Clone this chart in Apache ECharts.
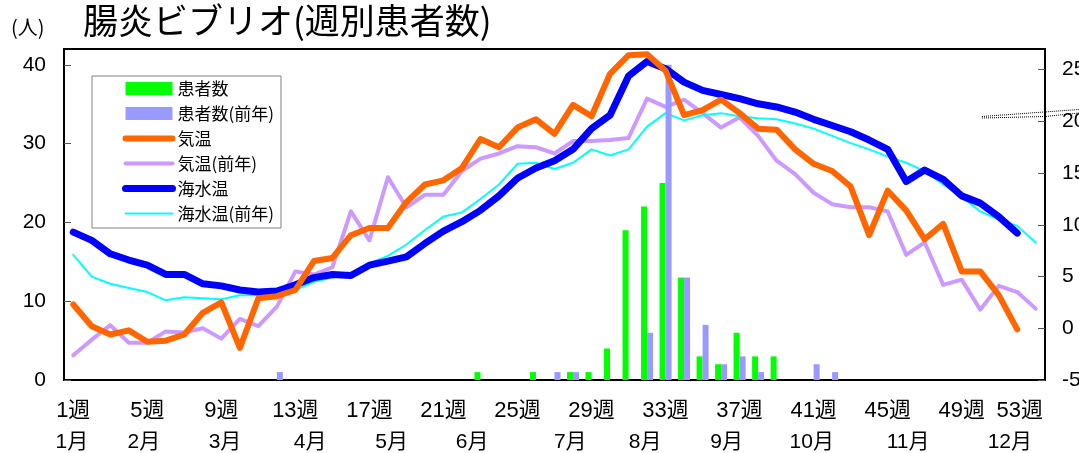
<!DOCTYPE html>
<html><head><meta charset="utf-8">
<script src="https://cdn.jsdelivr.net/npm/echarts@6/dist/echarts.min.js"></script>
<style>html,body{margin:0;padding:0;background:#fff}#c{width:1079px;height:453px}</style>
</head><body><div id="c"></div>
<script>
// Categories (weeks 1..53)
const weeks = ['1週','2週','3週','4週','5週','6週','7週','8週','9週','10週','11週','12週','13週','14週','15週','16週','17週','18週','19週','20週','21週','22週','23週','24週','25週','26週','27週','28週','29週','30週','31週','32週','33週','34週','35週','36週','37週','38週','39週','40週','41週','42週','43週','44週','45週','46週','47週','48週','49週','50週','51週','52週','53週'];
// Month labels and where they sit along the week axis
const monthLabels = ['1月','2月','3月','4月','5月','6月','7月','8月','9月','10月','11月','12月'];
const monthPos = [0.93,4.82,9.2,13.8,18.2,22.55,27.85,31.9,36.3,40.9,46.1,51.6];
// Patients (current year / previous year)
const patients = [0,0,0,0,0,0,0,0,0,0,0,0,0,0,0,0,0,0,0,0,0,0,1,0,0,1,0,1,1,4,19,22,25,13,3,2,6,3,3,0,0,0,0,0,0,0,0,0,0,0,0,0,0];
const patientsPrev = [0,0,0,0,0,0,0,0,0,0,0,1,0,0,0,0,0,0,0,0,0,0,0,0,0,0,1,1,0,0,0,6,40,13,7,2,3,1,0,0,2,1,0,0,0,0,0,0,0,0,0,0,0];
// Air temperature (current / previous)
const airTemp = [2.3,0.2,-0.6,-0.2,-1.3,-1.2,-0.6,1.5,2.5,-1.9,2.9,3.1,3.7,6.5,6.8,9.0,9.7,9.7,12.2,13.9,14.3,15.5,18.3,17.5,19.4,20.2,18.8,21.6,20.5,24.6,26.4,26.5,24.9,20.6,21.1,22.1,20.8,19.3,19.2,17.3,15.9,15.2,13.7,9.0,13.3,11.4,8.6,10.1,5.5,5.5,3.2,-0.1];
const airTempPrev = [-2.6,-1.1,0.3,-1.4,-1.4,-0.3,-0.4,0.0,-1.0,0.9,0.2,2.1,5.5,5.2,5.9,11.3,8.5,14.6,11.7,12.9,12.9,15.2,16.4,16.9,17.6,17.5,16.9,18.1,18.1,18.2,18.4,22.2,21.4,22.1,20.8,19.4,20.4,18.6,16.2,14.9,13.1,12.0,11.7,11.7,11.3,7.1,8.3,4.2,4.7,1.8,4.1,3.5,1.9];
// Sea water temperature (current / previous)
const seaTemp = [9.3,8.5,7.2,6.6,6.1,5.2,5.2,4.3,4.1,3.7,3.5,3.6,4.2,4.9,5.2,5.1,6.1,6.5,6.9,8.2,9.4,10.3,11.4,12.8,14.5,15.5,16.2,17.3,19.3,20.6,24.4,25.8,25.1,23.8,23.0,22.6,22.2,21.7,21.4,20.9,20.2,19.6,19.0,18.2,17.3,14.2,15.3,14.4,12.8,12.1,10.8,9.2];
const seaTempPrev = [7.1,5.0,4.3,3.9,3.5,2.7,3.0,2.9,2.8,3.2,3.2,3.5,3.7,4.5,4.9,5.3,6.3,7.0,8.1,9.5,10.8,11.2,12.5,13.9,15.9,16.0,15.4,16.0,17.3,16.7,17.3,19.5,20.8,20.1,20.6,20.8,20.5,20.3,20.2,19.8,19.3,18.6,17.9,17.3,16.6,16.0,15.2,13.9,12.7,11.3,10.5,9.9,8.3];

const FONT = '"Liberation Sans", "Noto Sans CJK JP", sans-serif';
const JP = '"Noto Sans CJK JP", sans-serif';
const chart = echarts.init(document.getElementById('c'));
const lineSeries = (name, data, color, width, z) => ({
  name, type:'line', data, xAxisIndex:0, yAxisIndex:1, symbol:'none', showSymbol:false, z,
  lineStyle:{color, width, cap:'round', join:'round'}, itemStyle:{color}
});
const noSym = {color:'rgba(0,0,0,0)', borderWidth:0, opacity:0};
chart.setOption({
  animation:false,
  title:[
    {text:'(人)', left:6, top:12, textStyle:{fontSize:20, fontWeight:'normal', color:'#000', fontFamily:JP}},
    {text:'腸炎ビブリオ(週別患者数)', left:78, top:-2, textStyle:{fontSize:35, fontWeight:'normal', color:'#000', fontFamily:JP}}
  ],
  grid:{left:64, top:49, width:981, height:331, show:true, borderColor:'#000', borderWidth:2, containLabel:false, outerBoundsMode:'none'},
  legend:{
    orient:'vertical', left:92, top:76, padding:[4,7,6,30], itemWidth:47, itemHeight:13, itemGap:8,
    backgroundColor:'#fff', borderColor:'#808080', borderWidth:1, selectedMode:false,
    textStyle:{fontSize:17, color:'#000', fontFamily:JP, lineHeight:17},
    data:[
      {name:'患者数', icon:'rect'},
      {name:'患者数(前年)', icon:'rect'},
      {name:'気温', itemStyle:noSym, lineStyle:{width:6, cap:'round'}},
      {name:'気温(前年)', itemStyle:noSym, lineStyle:{width:4, cap:'round'}},
      {name:'海水温', itemStyle:noSym, lineStyle:{width:7, cap:'round'}},
      {name:'海水温(前年)', itemStyle:noSym, lineStyle:{width:2}}
    ]
  },
  xAxis:[
    {type:'category', data:weeks, boundaryGap:true,
     axisLine:{lineStyle:{color:'#000', width:2}},
     axisTick:{inside:true, length:6, interval:3, lineStyle:{color:'#555', width:1}},
     axisLabel:{interval:3, margin:20, fontSize:22, color:'#000', fontFamily:FONT,
       formatter:(v, i)=> i===weeks.length-1 ? '{m|'+v+'}' : v,
       rich:{m:{padding:[0,32,0,0], fontSize:22, color:'#000', fontFamily:FONT}}}},
    {type:'value', min:0.5, max:53.5, position:'bottom',
     axisLine:{show:false}, axisTick:{show:false}, splitLine:{show:false},
     axisLabel:{customValues:monthPos, margin:52, fontSize:21, color:'#000', fontFamily:FONT,
       formatter:(v)=>{const i = monthPos.findIndex(p=>Math.abs(p-v)<1e-6); return i>=0?monthLabels[i]:'';}}}
  ],
  yAxis:[
    {type:'value', min:0, max:42, interval:10, position:'left',
     axisLine:{show:true, lineStyle:{color:'#000', width:2}},
     axisTick:{show:true, inside:true, length:7, lineStyle:{color:'#555'}},
     axisLabel:{showMaxLabel:false, margin:18, fontSize:21, color:'#000', fontFamily:FONT},
     splitLine:{show:false}},
    {type:'value', min:-5, max:27, interval:5, position:'right',
     axisLine:{show:true, lineStyle:{color:'#000', width:2}},
     axisTick:{show:true, inside:true, length:7, lineStyle:{color:'#555'}},
     axisLabel:{showMaxLabel:false, margin:17, fontSize:21, color:'#000', fontFamily:FONT},
     splitLine:{show:false}}
  ],
  series:[
    {name:'患者数', type:'bar', data:patients, xAxisIndex:0, yAxisIndex:0, barWidth:6, barGap:'0%', z:4, itemStyle:{color:'#00FF00'}},
    {name:'患者数(前年)', type:'bar', data:patientsPrev, xAxisIndex:0, yAxisIndex:0, barWidth:6, barGap:'0%', z:4, itemStyle:{color:'#9999FF'}},
    lineSeries('気温', airTemp, '#FF6600', 6, 6),
    lineSeries('気温(前年)', airTempPrev, '#CC99FF', 4, 3),
    lineSeries('海水温', seaTemp, '#0000FF', 7, 5),
    lineSeries('海水温(前年)', seaTempPrev, '#00FFFF', 2, 3)
  ],
  graphic:[
    {type:'polyline', silent:true, shape:{points:[[982,116.5],[1079,109.5]]}, style:{stroke:'#000', lineWidth:1, lineDash:[1,1], fill:null}},
    {type:'polyline', silent:true, shape:{points:[[982,118],[1045,116.5],[1079,113]]}, style:{stroke:'#000', lineWidth:1, lineDash:[1,1], fill:null}}
  ]
});
</script>
</body></html>
